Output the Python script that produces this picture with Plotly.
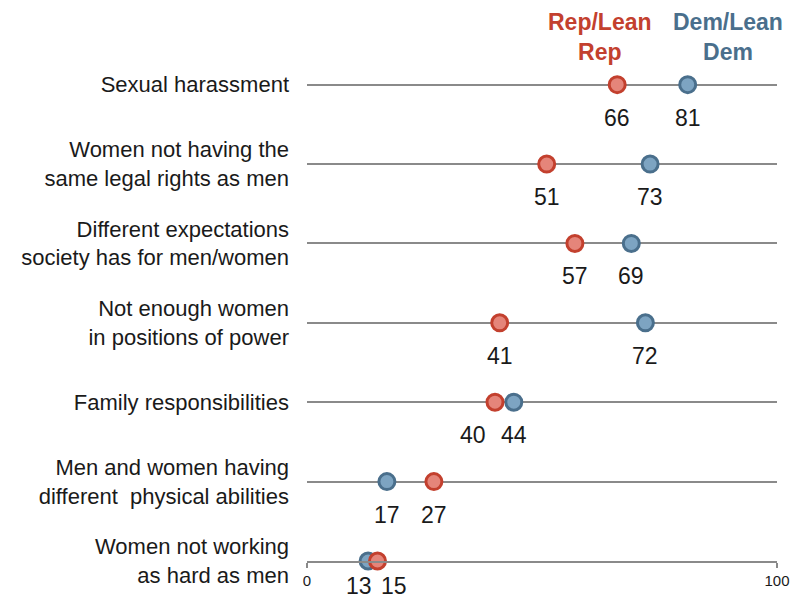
import plotly.graph_objects as go

CATEGORIES = [
    "Sexual harassment",
    "Women not having the<br>same legal rights as men",
    "Different expectations<br>society has for men/women",
    "Not enough women<br>in positions of power",
    "Family responsibilities",
    "Men and women having<br>different  physical abilities",
    "Women not working<br>as hard as men",
]
REP_VALUES = [66, 51, 57, 41, 40, 27, 15]
DEM_VALUES = [81, 73, 69, 72, 44, 17, 13]
SERIES_NAMES = ["Rep/Lean<br>Rep", "Dem/Lean<br>Dem"]
X_TICKS = [0, 100]

RED_LINE = "#c3402e"
RED_FILL = "#e5857a"
BLUE_LINE = "#4a6f8c"
BLUE_FILL = "#7da4c2"
GRID = "#8a8a8a"
FONT = "Liberation Sans, Arial, sans-serif"

# label nudges (px) where the two dots sit close together
NUDGE = {("rep", 4): -22, ("dem", 6): -9, ("rep", 6): 16}

fig = go.Figure()
fig.add_trace(
    go.Scatter(
        x=DEM_VALUES, y=CATEGORIES, mode="markers", name="Dem",
        marker=dict(size=16, color=BLUE_FILL, line=dict(color=BLUE_LINE, width=3)),
        cliponaxis=False, hoverinfo="x",
    )
)
fig.add_trace(
    go.Scatter(
        x=REP_VALUES, y=CATEGORIES, mode="markers", name="Rep",
        marker=dict(size=16, color=RED_FILL, line=dict(color=RED_LINE, width=3)),
        cliponaxis=False, hoverinfo="x",
    )
)

annotations = []
last = len(CATEGORIES) - 1
for key, values in (("rep", REP_VALUES), ("dem", DEM_VALUES)):
    for i, (cat, v) in enumerate(zip(CATEGORIES, values)):
        annotations.append(dict(
            x=v, y=cat, xref="x", yref="y", text=str(v), showarrow=False,
            yshift=-25 if i == last else -33, xshift=NUDGE.get((key, i), 0),
            font=dict(family=FONT, size=23, color="#1a1a1a"),
        ))

for name, xpos, color in ((SERIES_NAMES[0], 62.3, RED_LINE), (SERIES_NAMES[1], 89.6, BLUE_LINE)):
    annotations.append(dict(
        x=xpos, y=1, xref="x", yref="paper", yanchor="bottom", text=f"<b>{name}</b>",
        showarrow=False, yshift=-30, align="center",
        font=dict(family=FONT, size=23, color=color),
    ))

# page body adds an 8px offset, so the figure is sized to the remaining window
fig.update_layout(
    width=798, height=593,
    margin=dict(l=299, r=29, t=29, b=37),
    paper_bgcolor="white", plot_bgcolor="white",
    showlegend=False,
    annotations=annotations,
    font=dict(family=FONT, color="#1a1a1a"),
)
fig.update_xaxes(
    range=[0, 100], tickvals=X_TICKS, ticktext=[str(t) for t in X_TICKS],
    showgrid=False, zeroline=False, showline=True, linecolor=GRID, linewidth=2,
    ticks="outside", ticklen=5, tickwidth=2, tickcolor=GRID,
    tickfont=dict(family=FONT, size=15, color="#1a1a1a"),
)
fig.update_yaxes(
    type="category", categoryorder="array", categoryarray=CATEGORIES[::-1],
    range=[0, 6.6], showgrid=True, gridcolor=GRID, gridwidth=2,
    showline=False, zeroline=False, ticks="", ticklabelstandoff=17,
    tickfont=dict(family=FONT, size=22, color="#1a1a1a"),
)

fig.write_html("out.html")
